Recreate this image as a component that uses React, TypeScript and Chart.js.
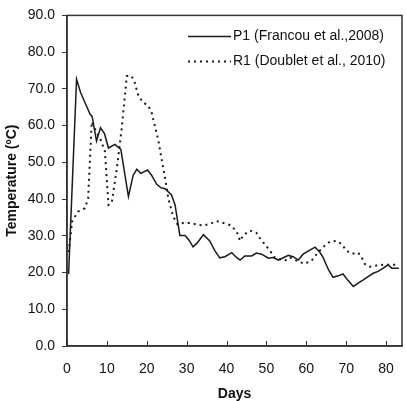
import React, { useEffect, useRef } from "react";
import { Chart, registerables } from "chart.js";

Chart.register(...registerables);

const p1Days = [0.4, 2.4, 3.4, 4.5, 5.8, 6.3, 7.4, 8.4, 9.4, 10.4, 12, 13.5, 15.4, 16.6, 17.5, 18.5, 20.2, 21.2, 22.5, 23.5, 24.6, 26.2, 27.1, 28.3, 29.6, 30.6, 31.6, 32.6, 34.2, 35.8, 37.1, 38.3, 39.6, 41.3, 42.5, 43.4, 44.6, 46.3, 47.5, 48.8, 50.5, 51.7, 53, 55.5, 56.7, 58, 59.2, 60.9, 62.2, 63.4, 64.2, 65.5, 66.7, 68, 69.2, 70.5, 71.8, 73, 74.3, 75.5, 76.8, 78, 79.3, 80.5, 81.4, 83.2];
const p1Temp = [19.6, 72.6, 69, 66.3, 63.1, 62.5, 55.8, 59.4, 57.8, 53.9, 54.9, 53.5, 40.7, 46.5, 48.1, 47.0, 47.9, 46.5, 44.0, 43.1, 42.8, 41.1, 38.4, 30.1, 30.1, 28.8, 27.0, 28.0, 30.3, 28.6, 25.9, 24.0, 24.3, 25.4, 24.1, 23.4, 24.5, 24.5, 25.3, 25.0, 23.9, 24.1, 23.4, 24.7, 24.3, 23.4, 25.0, 26.1, 26.9, 25.5, 24.1, 20.9, 18.7, 19.1, 19.6, 17.8, 16.2, 17.1, 18.0, 18.9, 19.8, 20.3, 21.2, 22.1, 21.2, 21.2];

const r1Days = [0, 0.4, 1.3, 2.8, 4.5, 5.3, 6.2, 7.5, 8.5, 9.5, 10.4, 11.2, 12.5, 13.7, 15, 16.2, 17, 17.9, 19.1, 20.4, 21.2, 22, 22.9, 23.7, 24.6, 25.4, 26.6, 27.7, 29.1, 30.8, 32.5, 34.2, 35.8, 37.5, 39.2, 40.9, 42.5, 43.4, 44.2, 45.9, 47.5, 48.4, 49.6, 50.9, 52.1, 54.6, 55.9, 58, 59.6, 61.3, 62.6, 64.2, 65.9, 67.6, 68.8, 70.1, 71.4, 73, 73.9, 74.7, 75.9, 77.6, 79.3, 80.9, 83.2];
const r1Temp = [27, 25.5, 34, 36.6, 37.5, 40.2, 61, 58, 56, 53, 38.4, 38.9, 48.3, 59.1, 73.5, 73.5, 71.7, 68.1, 66.3, 65.4, 63.6, 60, 56, 51, 45.6, 40.2, 35.3, 33.1, 33.5, 33.5, 33.1, 32.8, 33.2, 34, 33.5, 32.9, 31.3, 28.6, 30.2, 31.4, 30.8, 29.3, 27.7, 25.9, 24.1, 23.2, 24.1, 23, 22.4, 23.2, 25, 26.9, 28.4, 28.6, 27.8, 25.9, 25.1, 25.4, 24.1, 22.3, 21.6, 21.9, 22.1, 22.1, 22.1];

const seriesLabels = ["P1 (Francou et al.,2008)", "R1 (Doublet et al., 2010)"];
const xTicks = [0, 10, 20, 30, 40, 50, 60, 70, 80];
const xTitle = "Days";
const yTitle = "Temperature (ºC)";

const FONT = "'Liberation Sans', Arial, sans-serif";
const AXIS = "#333";

const framePlugin = {
  id: "frameLegend",
  afterDatasetsDraw(chart: any) {
    const { ctx, chartArea: a, scales } = chart;
    ctx.save();
    ctx.strokeStyle = AXIS;
    ctx.lineWidth = 1;
    ctx.beginPath();
    for (const t of xTicks) {
      const px = Math.round(scales.x.getPixelForValue(t)) + 0.5;
      ctx.moveTo(px, a.bottom);
      ctx.lineTo(px, a.bottom - 5);
    }
    ctx.stroke();
    ctx.lineWidth = 1.5;
    ctx.strokeRect(a.left, a.top, a.right - a.left, a.bottom - a.top);

    // legend
    const ds = chart.data.datasets;
    const x0 = a.right - 214;
    const x1 = a.right - 171;
    ds.forEach((d: any, i: number) => {
      const y = a.top + 21 + i * 25;
      ctx.beginPath();
      ctx.strokeStyle = d.borderColor;
      ctx.lineWidth = d.borderWidth;
      ctx.setLineDash(d.borderDash || []);
      ctx.moveTo(x0, y);
      ctx.lineTo(x1, y);
      ctx.stroke();
      ctx.setLineDash([]);
      ctx.fillStyle = "#111";
      ctx.font = `14px ${FONT}`;
      ctx.textBaseline = "middle";
      ctx.textAlign = "left";
      ctx.fillText(d.label, x1 + 2, y);
    });
    ctx.restore();
  },
};

export default function App() {
  const ref = useRef<HTMLCanvasElement | null>(null);
  useEffect(() => {
    if (!ref.current) return;
    const p1 = p1Days.map((d, i) => ({ x: d, y: p1Temp[i] }));
    const r1 = r1Days.map((d, i) => ({ x: d, y: r1Temp[i] }));
    const chart = new Chart(ref.current, {
      type: "line",
      data: {
        datasets: [
          {
            label: seriesLabels[0],
            data: p1,
            borderColor: "#1a1a1a",
            borderWidth: 1.5,
            pointRadius: 0,
            tension: 0,
            fill: false,
          },
          {
            label: seriesLabels[1],
            data: r1,
            borderColor: "#1a1a1a",
            borderWidth: 2,
            borderDash: [2, 4],
            pointRadius: 0,
            tension: 0,
            fill: false,
          },
        ],
      },
      options: {
        responsive: false,
        animation: false,
        layout: { padding: { top: 12, right: 4, left: 0, bottom: 0 } },
        plugins: { legend: { display: false }, tooltip: { enabled: false } },
        scales: {
          x: {
            type: "linear",
            min: 0,
            max: 84,
            afterFit: (s: any) => {
              s.height = 55;
            },
            grid: { display: false },
            border: { display: true, color: AXIS, width: 1.5 },
            ticks: {
              stepSize: 10,
              includeBounds: false,
              autoSkip: false,
              maxRotation: 0,
              padding: 7,
              color: "#111",
              font: { family: FONT, size: 14 },
              callback: (v: any) => (xTicks.includes(Number(v)) ? String(v) : ""),
            },
            title: {
              display: true,
              text: xTitle,
              color: "#111",
              font: { family: FONT, size: 14, weight: "bold" },
              padding: { top: 0, bottom: -2 },
            },
          },
          y: {
            type: "linear",
            min: 0,
            max: 90,
            afterFit: (s: any) => {
              s.width = 67;
            },
            grid: { display: true, drawOnChartArea: false, drawTicks: true, tickLength: 5, color: AXIS },
            border: { display: true, color: AXIS, width: 1.5 },
            ticks: {
              stepSize: 10,
              padding: 7,
              color: "#111",
              font: { family: FONT, size: 14 },
              callback: (v: any) => Number(v).toFixed(1),
            },
            title: {
              display: true,
              text: yTitle,
              color: "#111",
              font: { family: FONT, size: 14, weight: "bold" },
              padding: { top: 4, bottom: 4 },
            },
          },
        },
      },
      plugins: [framePlugin],
    });
    return () => chart.destroy();
  }, []);
  return (
    <div style={{ position: "absolute", left: 0, top: 0, width: 406, height: 401, background: "#fff" }}>
      <canvas ref={ref} width={406} height={401} />
    </div>
  );
}
